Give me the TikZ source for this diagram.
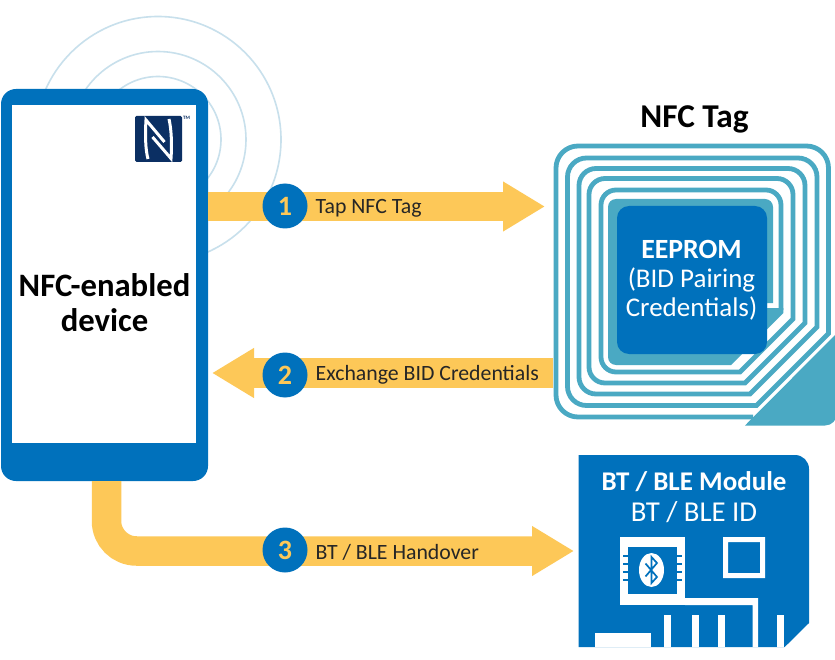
\documentclass[tikz,border=0pt]{standalone}
\usepackage{fontspec}
\setmainfont{Carlito}
\usetikzlibrary{arrows.meta,calc,shapes.geometric}
\definecolor{nfcblue}{HTML}{0071BC}
\definecolor{nfcteal}{HTML}{4AA9C3}
\definecolor{nfcyellow}{HTML}{FDC858}
\definecolor{nfcnavy}{HTML}{0B2F63}
\definecolor{wave}{HTML}{C8E0EC}
\tikzset{
  box/.style={inner sep=0pt,outer sep=0pt},
  wave ring/.style={draw=wave,line width=1.6pt},
  flow/.style={draw=nfcyellow,line width=29.5pt,-{Triangle[length=42pt,width=47pt]}},
  badge/.style={circle,fill=nfcblue,minimum size=45pt,inner sep=0pt,text=nfcyellow,font=\fontsize{28}{28}\selectfont\bfseries},
  flowlabel/.style={anchor=west,inner sep=0pt,text=black!85,font=\fontsize{21.8}{21.8}\selectfont},
  coil/.style={draw=nfcteal,line width=4.8pt,miter limit=10},
  white txt/.style={text=white,align=center,inner sep=0pt},
  chalk/.style={fill=white,draw=none},
  rune/.style={draw=nfcblue,line width=1.7pt,line join=miter},
  nmark/.style={draw=white,line width=3pt,line join=miter}
}
\begin{document}
\begin{tikzpicture}[x=1pt,y=-1pt]
\useasboundingbox (0,0) rectangle (835,660);
\fill[white] (0,0) rectangle (835,660);
% waves
\foreach \r in {63,88,123} \draw[wave ring] (158,139.5) circle[radius=\r];
% phone
\node[box,fill=nfcblue,rounded corners=15pt,minimum width=207pt,minimum height=392pt] (phone) at (104.5,285) {};
\fill[white] (12,105) rectangle (196,443);
\node[white txt,text=black,font=\fontsize{32.7}{35.5}\selectfont\bfseries] (phonetxt) at (104.5,302.5) {NFC-enabled\\device};
% N logo
\node[box,fill=nfcnavy,rounded corners=1.5pt,minimum width=47pt,minimum height=46pt] (nlogo) at (158.5,139) {};
\draw[nmark] (148,159) .. controls (145.5,150) and (145,135) .. (146,120) -- (164.5,142);
\draw[nmark] (169,119) .. controls (171.5,130) and (172,145) .. (171,158.5) -- (152.5,137);
\node[inner sep=0pt,text=nfcnavy,font=\fontsize{5}{5}\selectfont\bfseries] (tm) at (186.5,118) {TM};
% tag
\node[box,minimum width=282pt,minimum height=283pt] (tag) at (694,284.5) {};
\fill[nfcteal] (835,335) -- (745,425.5) [rounded corners=12pt] -- (837,425.5) [sharp corners] -- (837,335) -- cycle;
\draw[coil] (753,417) [rounded corners=22pt] -- (556,417) -- (556,146) -- (828.5,146) [sharp corners] -- (828.5,333.5) -- (756.5,405.5)
  [rounded corners=19pt] -- (567.5,405.5) -- (567.5,158) -- (817,158) [sharp corners] -- (817,327) -- (750,394)
  [rounded corners=17pt] -- (579,394) -- (579,168.5) -- (805,168.5) [sharp corners] -- (805,323) -- (745,383)
  [rounded corners=16pt] -- (589,383) -- (589,178.5) -- (793,178.5) [sharp corners] -- (793,319) -- (740,372)
  [rounded corners=15pt] -- (601,372) -- (601,190) -- (781,190) [sharp corners] -- (781,310);
\fill[nfcteal,rounded corners=8pt] (608,199) -- (773,199) [sharp corners] -- (773,303) -- (767,303) -- (767,308) -- (783.4,308) -- (783.4,313) -- (731,365) [rounded corners=8pt] -- (608,365) -- cycle;
\node[box,fill=nfcblue,rounded corners=12pt,minimum width=150pt,minimum height=148pt] (eeprom) at (692,280) {};
\node[white txt,font=\fontsize{27}{28.8}\selectfont] (eetxt) at (691.5,280) {\fontsize{27.8}{28.8}\selectfont\textbf{EEPROM}\\(BID Pairing\\Credentials)};
\node[inner sep=0pt,text=black,font=\fontsize{33.3}{33.3}\selectfont\bfseries] (tagtitle) at (694.5,119.5) {NFC Tag};
% module
\fill[nfcblue] (578.7,455) [rounded corners=14pt] -- (809,455) [sharp corners] -- (809,623) -- (784.7,647) -- (578.7,647) -- cycle;
\node[box,minimum width=230pt,minimum height=192pt] (module) at (694,551) {};
\node[inner sep=0pt,text=white,font=\fontsize{27}{27}\selectfont\bfseries] (modt) at (694,481.5) {BT / BLE Module};
\node[inner sep=0pt,text=white,font=\fontsize{28.8}{28.8}\selectfont] (modid) at (694,512.5) {BT / BLE ID};
% board traces
\fill[chalk] (620,537) rectangle (685,605);
\fill[chalk] (685,598) -- (758,598) -- (758,647) -- (752.7,647) -- (752.7,605) -- (685,605) -- cycle;
\fill[nfcblue] (628,547) rectangle (677,594);
\foreach \yy in {556,564,572,580} {\fill[nfcblue] (623,\yy-1) rectangle (628,\yy+1);\fill[nfcblue] (677,\yy-1) rectangle (682,\yy+1);}
\foreach \xa/\xb in {664/671,692/699,718/725,777/784} \fill[chalk] (\xa,615) rectangle (\xb,647);
\fill[chalk] (595,633) rectangle (651,647);
\fill[chalk,even odd rule] (723,537) rectangle (765,578) (728,542) rectangle (760,573);
\node[box,ellipse,fill=white,minimum width=25pt,minimum height=34pt] (btoval) at (651.5,570) {};
\draw[rune] (645.5,563.5) -- (657,577) -- (651.5,583) -- (651.5,557) -- (657,563) -- (645.5,576.5);
% flows
\coordinate (y1) at (0,206.5);
\coordinate (y2) at (0,373);
\coordinate (y3) at (0,551);
\draw[flow] (phone.east |- y1) -- ([xshift=-8pt]tag.west |- y1);
\draw[flow] (tag.west |- y2) -- ([xshift=4pt]phone.east |- y2);
\draw[flow,rounded corners=30pt] (106.5,481) -- (106.5,551) -- ([xshift=-5pt]module.west |- y3);
\node[badge] (s1) at (285,206) {1};
\node[badge] (s2) at (285,375) {2};
\node[badge] (s3) at (285,550) {3};
\node[flowlabel] (l1) at (315.5,208.5) {Tap NFC Tag};
\node[flowlabel] (l2) at (315.5,375) {Exchange BID Credentials};
\node[flowlabel] (l3) at (315.5,552.5) {BT / BLE Handover};
\end{tikzpicture}
\end{document}
